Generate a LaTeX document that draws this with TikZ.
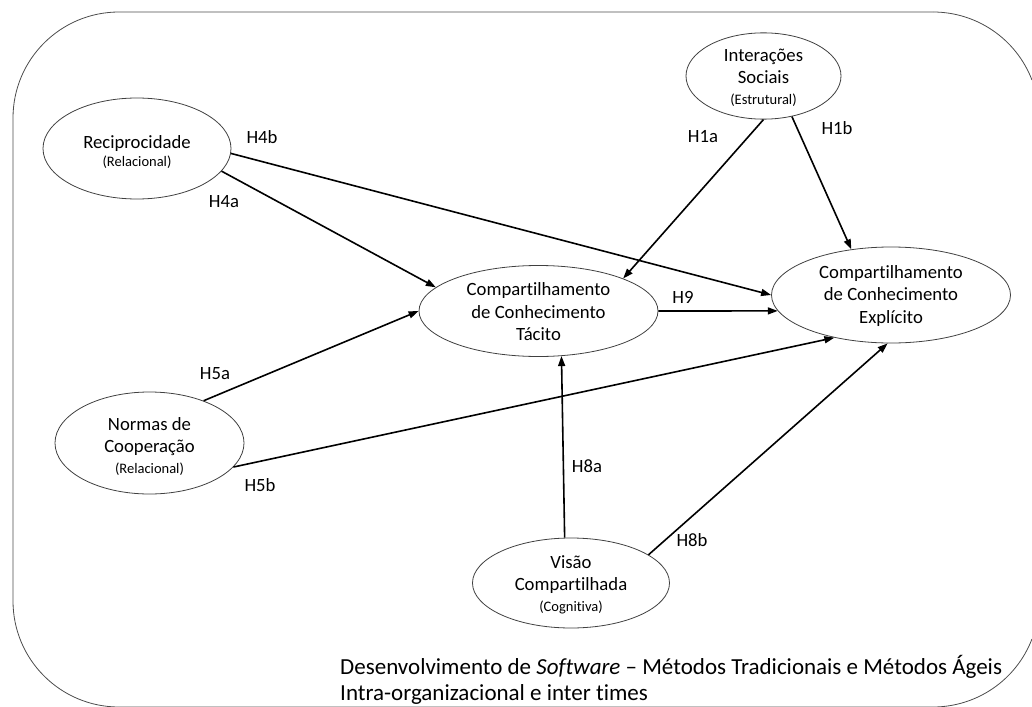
\documentclass[tikz,border=0pt]{standalone}
\usepackage{fontspec}
\setmainfont{Carlito}[Ligatures=NoCommon]
\usetikzlibrary{shapes.geometric,arrows.meta}

% smaller second-level caption inside a construct
\newcommand\dimtag[1]{{\fontsize{14.5}{17}\selectfont #1}}
% invisible strut that lowers a text block a little
\newcommand\lift[1]{\rule{0pt}{#1}}

\begin{document}
\begin{tikzpicture}[x=1pt,y=-1pt,
  frame/.style={draw=black!70, line width=0.8pt},
  construct/.style={ellipse, draw=black!75, line width=0.8pt, inner sep=0pt,
    align=center, font=\fontsize{18.7}{22.5}\selectfont},
  link/.style={draw=black, line width=1.6pt, -{Triangle[length=10pt,width=7pt]}},
  hyp/.style={inner sep=0pt, font=\fontsize{18.7}{22.5}\selectfont}]
\useasboundingbox (0,0) rectangle (1032,706);
\clip (0,0) rectangle (1032,706);

% context frame (its right side runs past the page edge)
\draw[frame] (933,12) -- (119,12) arc[start angle=90, end angle=180, radius=106pt]
  -- (13,601) arc[start angle=180, end angle=270, radius=106pt]
  -- (933,707) arc[start angle=270, end angle=339, radius=106pt];
\draw[frame] (933,12) arc[start angle=90, end angle=21, radius=106pt];

% constructs
\node[construct, minimum width=188pt, minimum height=101pt] (rec) at (137,148.5)
  {\lift{20pt}Reciprocidade\\[-4pt]\dimtag{(Relacional)}};
\node[construct, minimum width=155pt, minimum height=86pt] (soc) at (763.5,76)
  {\lift{16pt}Interações\\Sociais\\[-2pt]\dimtag{(Estrutural)}};
\node[construct, minimum width=239pt, minimum height=96pt] (exp) at (891,295)
  {\lift{14.5pt}Compartilhamento\\de Conhecimento\\Explícito};
\node[construct, minimum width=239pt, minimum height=91pt] (tac) at (538.5,311)
  {\lift{14.5pt}Compartilhamento\\de Conhecimento\\Tácito};
\node[construct, minimum width=189pt, minimum height=102pt] (nor) at (149.5,443)
  {\lift{19pt}Normas de\\Cooperação\\[-2pt]\dimtag{(Relacional)}};
\node[construct, minimum width=197pt, minimum height=90pt] (vis) at (571,583)
  {\lift{16pt}Visão\\Compartilhada\\[-2pt]\dimtag{(Cognitiva)}};

% hypotheses
\draw[link] (rec.-3.3) -- (exp.180);
\draw[link] (rec.-15.3) -- (tac.167.8);
\draw[link] (soc.-90) -- (tac.21.3);
\draw[link] (soc.-55.2) -- (exp.131);
\draw[link] (tac.0) -- (exp.188);
\draw[link] (nor.38.7) -- (tac.180);
\draw[link] (nor.-16.5) -- (exp.217.3);
\draw[link] (vis.98.8) -- (tac.-63.4);
\draw[link] (vis.20.8) -- (exp.266.6);

% hypothesis labels
\node[hyp] (h4b) at (262,137) {H4b};
\node[hyp] (h4a) at (224,202) {H4a};
\node[hyp] (h1a) at (703,137) {H1a};
\node[hyp] (h1b) at (837,128) {H1b};
\node[hyp] (h9)  at (683,297) {H9};
\node[hyp] (h5a) at (215,374) {H5a};
\node[hyp] (h5b) at (260,485) {H5b};
\node[hyp] (h8a) at (587,466) {H8a};
\node[hyp] (h8b) at (692,540) {H8b};

% context caption
\node[anchor=west, align=left, inner sep=0pt, font=\fontsize{23}{26}\selectfont] (ctx) at (340,680)
  {Desenvolvimento de \textit{Software} – Métodos Tradicionais e Métodos Ágeis\\
   Intra-organizacional e inter times};
\end{tikzpicture}
\end{document}
